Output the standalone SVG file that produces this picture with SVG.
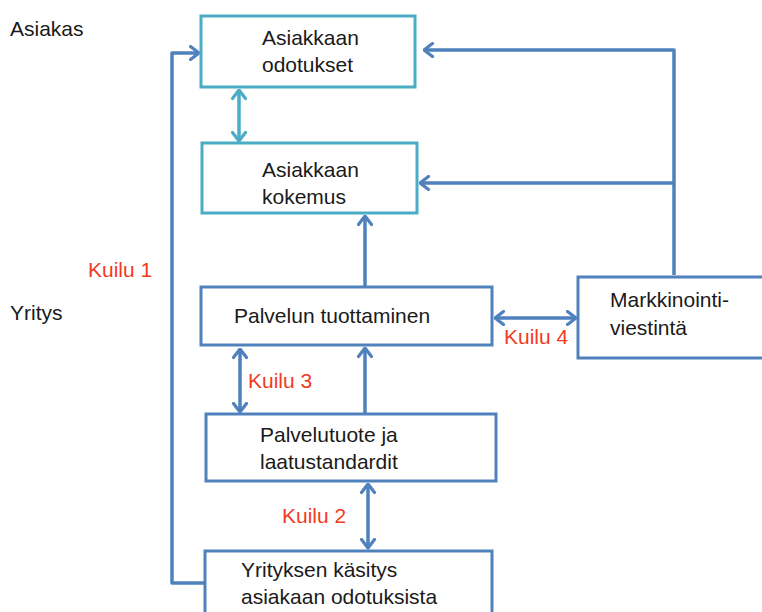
<svg xmlns="http://www.w3.org/2000/svg" width="762" height="612" viewBox="0 0 762 612">
<style>
.t{font-family:"Liberation Sans",Arial,sans-serif;font-size:21px;fill:#1a1a1a}
.k{font-family:"Liberation Sans",Arial,sans-serif;font-size:21px;fill:#F23A1E}
.bt{fill:#fff;stroke:#4BACC6;stroke-width:3}
.bb{fill:#fff;stroke:#4F81BD;stroke-width:3}
.cb{fill:none;stroke:#4F81BD;stroke-width:3.5;stroke-linejoin:round}
.ct{fill:none;stroke:#4BACC6;stroke-width:3.5}
</style>
<defs>
<marker id="ab" viewBox="0 0 12 16" refX="10.5" refY="8" markerWidth="12" markerHeight="16" markerUnits="userSpaceOnUse" orient="auto-start-reverse">
<path d="M2,1.5 L10.5,8 L2,14.5" fill="none" stroke="#4F81BD" stroke-width="3.2" stroke-linecap="round" stroke-linejoin="round"/>
</marker>
<marker id="at" viewBox="0 0 12 16" refX="10.5" refY="8" markerWidth="12" markerHeight="16" markerUnits="userSpaceOnUse" orient="auto-start-reverse">
<path d="M2,1.5 L10.5,8 L2,14.5" fill="none" stroke="#4BACC6" stroke-width="3.2" stroke-linecap="round" stroke-linejoin="round"/>
</marker>
</defs>
<rect width="762" height="612" fill="#fff"/>
<g id="connectors">
<path class="ct" d="M239,90 L239,141" marker-start="url(#at)" marker-end="url(#at)"/>
<path class="cb" d="M205,583 L172,583 L172,53 L199,53" marker-end="url(#ab)"/>
<path class="cb" d="M674,275 L674,50 L424,50" marker-end="url(#ab)"/>
<path class="cb" d="M674,183 L420,183" marker-end="url(#ab)"/>
<path class="cb" d="M365,286 L365,216" marker-end="url(#ab)"/>
<path class="cb" d="M365,413 L365,348" marker-end="url(#ab)"/>
<path class="cb" d="M240,349 L240,412" marker-start="url(#ab)" marker-end="url(#ab)"/>
<path class="cb" d="M495,318 L576,318" marker-start="url(#ab)" marker-end="url(#ab)"/>
<path class="cb" d="M368,484 L368,548" marker-start="url(#ab)" marker-end="url(#ab)"/>
</g>
<g id="label-asiakas"><text class="t" x="10" y="36">Asiakas</text></g>
<g id="label-yritys"><text class="t" x="10" y="320">Yritys</text></g>
<g id="kuilu1"><text class="k" x="88" y="277">Kuilu 1</text></g>
<g id="kuilu2"><text class="k" x="282" y="523">Kuilu 2</text></g>
<g id="kuilu3"><text class="k" x="248" y="388">Kuilu 3</text></g>
<g id="kuilu4"><text class="k" x="504" y="344">Kuilu 4</text></g>
<g id="odotukset">
<rect class="bt" x="201" y="16" width="214" height="71"/>
<text class="t" x="262" y="45">Asiakkaan</text>
<text class="t" x="262" y="72">odotukset</text>
</g>
<g id="kokemus">
<rect class="bt" x="202" y="143" width="215" height="70"/>
<text class="t" x="262" y="177">Asiakkaan</text>
<text class="t" x="262" y="204">kokemus</text>
</g>
<g id="tuottaminen">
<rect class="bb" x="201" y="287" width="291" height="58"/>
<text class="t" x="234" y="323">Palvelun tuottaminen</text>
</g>
<g id="markkinointi">
<rect class="bb" x="578" y="277" width="200" height="81"/>
<text class="t" x="610" y="307">Markkinointi-</text>
<text class="t" x="610" y="335">viestintä</text>
</g>
<g id="palvelutuote">
<rect class="bb" x="206" y="414" width="290" height="67"/>
<text class="t" x="260" y="442">Palvelutuote ja</text>
<text class="t" x="260" y="469">laatustandardit</text>
</g>
<g id="kasitys">
<rect class="bb" x="205" y="551" width="287" height="80"/>
<text class="t" x="241" y="577">Yrityksen käsitys</text>
<text class="t" x="241" y="604">asiakaan odotuksista</text>
</g>
</svg>
